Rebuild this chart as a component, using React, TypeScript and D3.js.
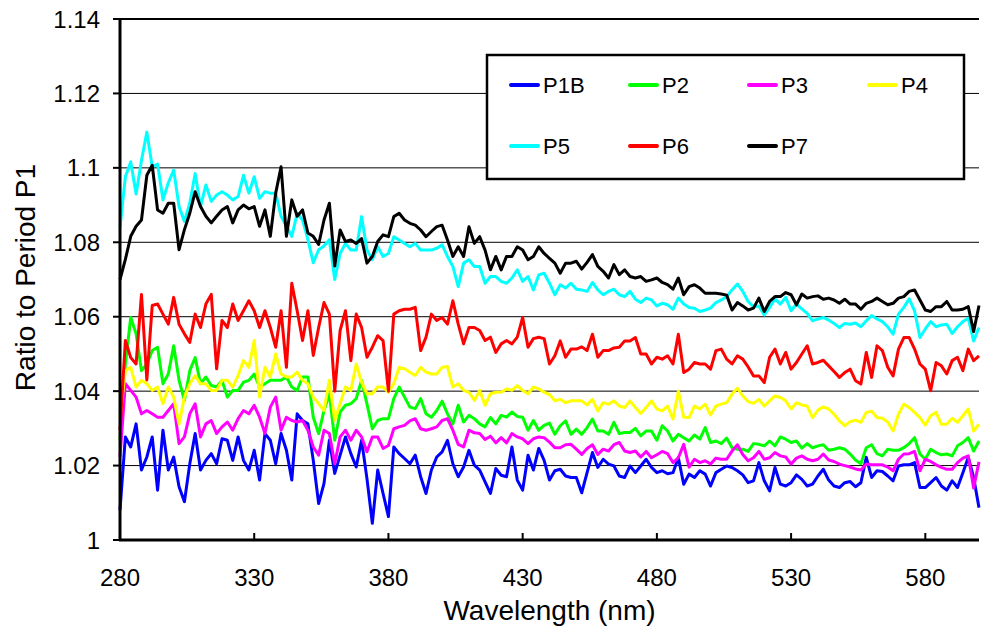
import React from "react";
import * as d3 from "d3";

// wavelength grid (nm), every 2 nm from 280 to 600
const wavelengths = d3.range(280, 601, 2);

const p1b = [
  1.008, 1.0277, 1.025, 1.0312, 1.0188, 1.0223, 1.0277, 1.0134, 1.0295, 1.0188, 1.0223, 1.0143, 1.0103, 1.0205, 1.0286, 1.0188, 1.0214, 1.0232, 1.0205, 1.0272, 1.0268,
  1.0214, 1.0277, 1.0214, 1.0188, 1.0241, 1.0161, 1.0286, 1.0268, 1.0205, 1.0286, 1.0241, 1.0161, 1.0339, 1.0321, 1.0312, 1.0214, 1.0098, 1.0152, 1.0268, 1.0179,
  1.0228, 1.0277, 1.0232, 1.0196, 1.0268, 1.0165, 1.0045, 1.0188, 1.0125, 1.0063, 1.025, 1.0232, 1.0219, 1.0205, 1.0228, 1.017, 1.0125, 1.0188, 1.0223, 1.0237,
  1.0268, 1.0205, 1.017, 1.0196, 1.0241, 1.0201, 1.0188, 1.0156, 1.0125, 1.0192, 1.0174, 1.017, 1.025, 1.0161, 1.0134, 1.0228, 1.0188, 1.0246, 1.0214, 1.0161,
  1.0186, 1.019, 1.0172, 1.0168, 1.0168, 1.0127, 1.0181, 1.0235, 1.0195, 1.0217, 1.0204, 1.0199, 1.0172, 1.0168, 1.0199, 1.0181, 1.0199, 1.0217, 1.0195, 1.0181,
  1.0186, 1.0178, 1.0181, 1.0221, 1.015, 1.0177, 1.0168, 1.0186, 1.0177, 1.0145, 1.0181, 1.019, 1.0199, 1.0195, 1.0186, 1.0175, 1.0154, 1.0159, 1.0208, 1.0159,
  1.0132, 1.0195, 1.015, 1.0145, 1.0154, 1.0175, 1.0163, 1.0145, 1.015, 1.0172, 1.019, 1.0161, 1.0145, 1.0141, 1.0154, 1.0157, 1.0143, 1.0154, 1.0222, 1.0168,
  1.0186, 1.0184, 1.0172, 1.0159, 1.0199, 1.0202, 1.0202, 1.0208, 1.0141, 1.0141, 1.0154, 1.0168, 1.0145, 1.0134, 1.0159, 1.0141, 1.0181, 1.0222, 1.0168, 1.0087,
];

const p2 = [
  1.0268, 1.0473, 1.0598, 1.0554, 1.0455, 1.0473, 1.0509, 1.0518, 1.042, 1.0446, 1.0522, 1.0429, 1.0375, 1.0455, 1.049, 1.042, 1.0438, 1.0415, 1.0411, 1.0429, 1.0384,
  1.0402, 1.0402, 1.0424, 1.0429, 1.0446, 1.0411, 1.042, 1.0429, 1.0429, 1.0429, 1.0438, 1.0411, 1.0402, 1.0438, 1.0438, 1.033, 1.0286, 1.0348, 1.0393, 1.0268,
  1.0344, 1.0362, 1.0366, 1.038, 1.0429, 1.0366, 1.0299, 1.0321, 1.0326, 1.0326, 1.038, 1.0411, 1.0384, 1.0357, 1.0353, 1.038, 1.0339, 1.033, 1.0348, 1.0373,
  1.0339, 1.0312, 1.0362, 1.0317, 1.0335, 1.0326, 1.0312, 1.0304, 1.0329, 1.0312, 1.0335, 1.033, 1.0344, 1.0332, 1.033, 1.0295, 1.0321, 1.0295, 1.0308, 1.0314,
  1.0284, 1.0307, 1.032, 1.0284, 1.0298, 1.0284, 1.0302, 1.0325, 1.0293, 1.0293, 1.0284, 1.0316, 1.0286, 1.0289, 1.0289, 1.03, 1.028, 1.0293, 1.0293, 1.0268,
  1.0307, 1.0293, 1.0266, 1.0284, 1.0275, 1.0266, 1.0282, 1.0271, 1.0302, 1.0262, 1.0266, 1.0259, 1.0274, 1.0248, 1.0244, 1.0244, 1.0238, 1.0259, 1.0257, 1.0253,
  1.0266, 1.0253, 1.0277, 1.0271, 1.0262, 1.0266, 1.0247, 1.0259, 1.0248, 1.0253, 1.0256, 1.0241, 1.0244, 1.0248, 1.0244, 1.0231, 1.0215, 1.0205, 1.0248, 1.0256,
  1.0232, 1.0226, 1.0244, 1.0241, 1.0241, 1.0248, 1.0259, 1.0275, 1.0231, 1.0217, 1.0244, 1.0235, 1.0229, 1.0231, 1.0226, 1.0253, 1.0262, 1.0275, 1.0239, 1.0266,
];

const p3 = [
  1.0223, 1.042, 1.0402, 1.0384, 1.0339, 1.0348, 1.0339, 1.033, 1.033, 1.0348, 1.0366, 1.0259, 1.0277, 1.0339, 1.0366, 1.0277, 1.0312, 1.0321, 1.0286, 1.0304, 1.0317,
  1.0295, 1.0326, 1.0348, 1.0339, 1.0362, 1.033, 1.0286, 1.0357, 1.0384, 1.0295, 1.033, 1.0321, 1.0317, 1.0321, 1.0295, 1.025, 1.0228, 1.0295, 1.0286, 1.0205,
  1.0277, 1.0295, 1.0268, 1.0295, 1.0277, 1.0237, 1.0277, 1.0277, 1.0246, 1.0254, 1.0299, 1.0304, 1.0308, 1.032, 1.0326, 1.0299, 1.0295, 1.0299, 1.0304, 1.0321,
  1.0326, 1.0295, 1.0257, 1.025, 1.0295, 1.0288, 1.0286, 1.027, 1.0279, 1.0261, 1.0275, 1.0261, 1.0286, 1.0277, 1.0272, 1.0259, 1.0272, 1.0277, 1.0275, 1.0263,
  1.0248, 1.0248, 1.0256, 1.0257, 1.0244, 1.023, 1.0246, 1.0256, 1.023, 1.0244, 1.0239, 1.0256, 1.0262, 1.0239, 1.0235, 1.0239, 1.0223, 1.0238, 1.0221, 1.0229,
  1.0238, 1.0232, 1.0208, 1.0221, 1.0257, 1.0196, 1.0217, 1.0208, 1.0213, 1.0204, 1.022, 1.0217, 1.0217, 1.0239, 1.0256, 1.023, 1.0213, 1.0221, 1.0238, 1.0217,
  1.0221, 1.0235, 1.0226, 1.0223, 1.0204, 1.022, 1.0226, 1.0217, 1.0213, 1.0217, 1.0231, 1.0215, 1.0211, 1.0204, 1.02, 1.0196, 1.0191, 1.0188, 1.0204, 1.0202,
  1.0202, 1.0202, 1.0196, 1.0186, 1.0217, 1.0231, 1.0232, 1.0238, 1.0186, 1.0217, 1.0211, 1.0202, 1.0195, 1.019, 1.019, 1.0208, 1.022, 1.0226, 1.014, 1.021,
];

const p4 = [
  1.033, 1.0455, 1.0464, 1.0411, 1.0429, 1.042, 1.0402, 1.0411, 1.0366, 1.0411, 1.0384, 1.0312, 1.0384, 1.042, 1.0442, 1.042, 1.042, 1.0402, 1.0402, 1.0429, 1.0429,
  1.0411, 1.0442, 1.0482, 1.0464, 1.0536, 1.0384, 1.0464, 1.0438, 1.05, 1.0446, 1.0438, 1.0438, 1.0451, 1.0429, 1.042, 1.0384, 1.0366, 1.0348, 1.0429, 1.0321,
  1.0366, 1.0411, 1.0402, 1.0473, 1.0424, 1.0393, 1.0393, 1.0411, 1.0411, 1.0397, 1.042, 1.0464, 1.046, 1.0451, 1.0442, 1.0464, 1.0451, 1.0446, 1.0446, 1.0464,
  1.0466, 1.0411, 1.042, 1.0402, 1.0397, 1.0375, 1.0402, 1.0362, 1.0393, 1.0397, 1.0397, 1.0406, 1.0402, 1.0415, 1.0402, 1.0393, 1.0411, 1.0406, 1.0397, 1.0391,
  1.0374, 1.0378, 1.0369, 1.0374, 1.0374, 1.0374, 1.0363, 1.0378, 1.0347, 1.0369, 1.0365, 1.0374, 1.036, 1.0356, 1.0374, 1.0356, 1.034, 1.0356, 1.0374, 1.0352,
  1.0347, 1.036, 1.0325, 1.04, 1.033, 1.0329, 1.036, 1.0352, 1.0365, 1.0336, 1.036, 1.0365, 1.0369, 1.0392, 1.0408, 1.0387, 1.0372, 1.0367, 1.0378, 1.036,
  1.0374, 1.0387, 1.0383, 1.0374, 1.0352, 1.0369, 1.0363, 1.036, 1.0329, 1.0349, 1.0358, 1.0352, 1.0338, 1.032, 1.0307, 1.0318, 1.0322, 1.0316, 1.0343, 1.0346,
  1.0329, 1.0327, 1.0317, 1.0293, 1.0338, 1.0365, 1.0356, 1.0343, 1.0329, 1.0309, 1.0334, 1.0343, 1.0311, 1.0311, 1.0327, 1.0316, 1.0334, 1.0352, 1.0293, 1.0311,
];

const p5 = [
  1.084, 1.0976, 1.1016, 1.093, 1.102, 1.1096, 1.1003, 1.101, 1.0914, 1.096, 1.0994, 1.0896, 1.0856, 1.0905, 1.0985, 1.0896, 1.0954, 1.091, 1.0927, 1.0936, 1.0927,
  1.0914, 1.0923, 1.098, 1.0932, 1.0976, 1.0918, 1.0936, 1.0932, 1.0932, 1.087, 1.0843, 1.0816, 1.0878, 1.086, 1.0807, 1.0745, 1.078, 1.079, 1.0807, 1.07,
  1.077, 1.0797, 1.0779, 1.0779, 1.0869, 1.0779, 1.0753, 1.0788, 1.0762, 1.077, 1.0815, 1.0806, 1.0797, 1.0788, 1.0797, 1.0779, 1.0779, 1.0779, 1.0784, 1.0793,
  1.0762, 1.0735, 1.0681, 1.0744, 1.0753, 1.0735, 1.0735, 1.069, 1.0708, 1.0708, 1.0695, 1.069, 1.0704, 1.0726, 1.0695, 1.0708, 1.0672, 1.0712, 1.0717, 1.069,
  1.0659, 1.0686, 1.0677, 1.069, 1.0674, 1.0672, 1.0668, 1.0692, 1.0672, 1.0659, 1.0668, 1.0674, 1.0659, 1.0654, 1.0668, 1.0647, 1.0638, 1.065, 1.0645, 1.0629,
  1.0636, 1.0632, 1.062, 1.065, 1.0634, 1.0625, 1.0623, 1.0614, 1.0618, 1.0623, 1.0638, 1.0645, 1.0654, 1.0672, 1.0688, 1.0668, 1.0641, 1.0627, 1.0629, 1.0605,
  1.0625, 1.0648, 1.0634, 1.0652, 1.0616, 1.0634, 1.0621, 1.0609, 1.0589, 1.0594, 1.0598, 1.0591, 1.0582, 1.0571, 1.0582, 1.058, 1.0583, 1.0573, 1.0589, 1.0603,
  1.0594, 1.0587, 1.0573, 1.0553, 1.0607, 1.0625, 1.0648, 1.0616, 1.0544, 1.0567, 1.0587, 1.0573, 1.0578, 1.058, 1.0555, 1.0573, 1.0587, 1.0596, 1.0535, 1.0571,
];

const p6 = [
  1.0295, 1.0536, 1.049, 1.0473, 1.066, 1.043, 1.063, 1.0634, 1.0607, 1.058, 1.0652, 1.058, 1.0554, 1.0531, 1.0607, 1.0571, 1.0634, 1.066, 1.046, 1.059, 1.0571,
  1.0634, 1.059, 1.0616, 1.0643, 1.0616, 1.0571, 1.0616, 1.0571, 1.0518, 1.0616, 1.0464, 1.069, 1.0616, 1.0536, 1.0616, 1.0496, 1.0571, 1.0638, 1.0607, 1.04,
  1.0563, 1.0616, 1.0482, 1.0607, 1.0571, 1.0491, 1.0518, 1.0549, 1.0536, 1.04, 1.0607, 1.0616, 1.062, 1.062, 1.0625, 1.0509, 1.0545, 1.0607, 1.059, 1.0598,
  1.058, 1.0643, 1.058, 1.0527, 1.0571, 1.0571, 1.0563, 1.0536, 1.0545, 1.0504, 1.0527, 1.0536, 1.0527, 1.0545, 1.0598, 1.0518, 1.0541, 1.0545, 1.0541, 1.0473,
  1.0495, 1.0535, 1.0491, 1.0513, 1.0513, 1.0519, 1.0509, 1.0553, 1.0491, 1.0509, 1.0509, 1.0516, 1.0518, 1.0535, 1.0535, 1.0544, 1.05, 1.05, 1.0473, 1.0491,
  1.0486, 1.0495, 1.0473, 1.0553, 1.045, 1.0459, 1.0477, 1.0473, 1.0473, 1.0459, 1.0509, 1.0513, 1.0486, 1.0473, 1.0495, 1.0486, 1.0465, 1.0441, 1.0441, 1.0423,
  1.0491, 1.0513, 1.0473, 1.0504, 1.0459, 1.0477, 1.05, 1.0522, 1.0473, 1.0477, 1.0483, 1.0468, 1.0453, 1.0437, 1.045, 1.0459, 1.0428, 1.0419, 1.0504, 1.0437,
  1.0522, 1.0509, 1.0464, 1.0441, 1.0513, 1.0544, 1.0544, 1.0513, 1.0473, 1.0459, 1.0401, 1.0477, 1.0468, 1.0446, 1.0482, 1.0491, 1.0455, 1.0513, 1.0482, 1.0495,
];

const p7 = [
  1.07, 1.0754, 1.0816, 1.0843, 1.086, 1.098, 1.1007, 1.0887, 1.0878, 1.0905, 1.0905, 1.078, 1.0834, 1.0878, 1.0936, 1.0896, 1.087, 1.0852, 1.087, 1.0887, 1.0896,
  1.0852, 1.0887, 1.09, 1.089, 1.0896, 1.0843, 1.0887, 1.0816, 1.0932, 1.1003, 1.0816, 1.0914, 1.087, 1.0887, 1.0825, 1.0816, 1.0794, 1.086, 1.0905, 1.0736,
  1.0833, 1.0802, 1.0806, 1.0797, 1.081, 1.0744, 1.0762, 1.0802, 1.082, 1.0815, 1.0869, 1.0878, 1.086, 1.0851, 1.0846, 1.0833, 1.0815, 1.0829, 1.0842, 1.0846,
  1.0806, 1.0762, 1.0788, 1.0762, 1.0842, 1.0797, 1.0815, 1.0779, 1.0726, 1.0762, 1.0726, 1.0762, 1.0762, 1.0788, 1.0779, 1.0753, 1.0762, 1.0788, 1.077, 1.0757,
  1.0744, 1.0717, 1.0744, 1.0744, 1.0749, 1.0728, 1.0746, 1.0767, 1.0735, 1.0722, 1.0704, 1.074, 1.0713, 1.0726, 1.0708, 1.0704, 1.0708, 1.0695, 1.0699, 1.0704,
  1.0692, 1.0686, 1.0674, 1.0704, 1.0659, 1.0681, 1.0686, 1.0677, 1.0663, 1.0663, 1.0663, 1.0661, 1.0658, 1.0618, 1.0638, 1.0629, 1.0618, 1.0623, 1.065, 1.0614,
  1.0641, 1.0654, 1.0654, 1.0665, 1.0659, 1.0632, 1.0661, 1.065, 1.0654, 1.0656, 1.0647, 1.065, 1.0645, 1.0636, 1.0647, 1.0634, 1.0634, 1.062, 1.0636, 1.0641,
  1.065, 1.0641, 1.0632, 1.0636, 1.065, 1.0654, 1.0668, 1.0672, 1.0645, 1.0618, 1.0614, 1.0627, 1.0627, 1.0641, 1.0618, 1.0618, 1.062, 1.0627, 1.056, 1.063,
];

const seriesNames = ["P1B", "P2", "P3", "P4", "P5", "P6", "P7"];
const seriesColors = ["#0000ff", "#00ff00", "#ff00ff", "#ffff00", "#00ffff", "#ff0000", "#000000"];
const seriesValues = [p1b, p2, p3, p4, p5, p6, p7];

const xTicks = [280, 330, 380, 430, 480, 530, 580];
const yTicks = [1, 1.02, 1.04, 1.06, 1.08, 1.1, 1.12, 1.14];

const width = 982;
const height = 626;
const left = 120;
const right = 979;
const top = 19;
const bottom = 540;
const font = "Arial, 'Liberation Sans', sans-serif";

export default function App() {
  const x = d3.scaleLinear().domain([280, 600]).range([left, right]);
  const y = d3.scaleLinear().domain([1, 1.14]).range([bottom, top]);

  const line = d3
    .line<number>()
    .x((_, i) => x(wavelengths[i]))
    .y((d) => y(d));

  // legend layout: 4 columns, 2 rows
  const legX = [511, 630, 749, 869];
  const legY = [85, 146];

  return (
    <svg width={width} height={height} style={{ position: "absolute", left: 0, top: 0, background: "#fff" }}>
      <rect x={0} y={0} width={width} height={height} fill="#fff" />
      {/* gridlines */}
      {yTicks.slice(1, -1).map((t) => (
        <line key={t} x1={left} x2={right} y1={y(t)} y2={y(t)} stroke="#000" strokeWidth={1} />
      ))}
      <line x1={left} x2={right} y1={y(1.14)} y2={y(1.14)} stroke="#000" strokeWidth={2} />

      {/* series */}
      {seriesValues.map((vals, i) => (
        <path
          key={seriesNames[i]}
          d={line(vals) || ""}
          fill="none"
          stroke={seriesColors[i]}
          strokeWidth={3}
          strokeLinejoin="round"
        />
      ))}

      {/* axes */}
      <line x1={left} x2={left} y1={top - 1} y2={bottom + 1} stroke="#000" strokeWidth={3} />
      <line x1={left - 1} x2={right} y1={bottom} y2={bottom} stroke="#000" strokeWidth={3} />
      {yTicks.map((t) => (
        <g key={t}>
          <line x1={left - 7} x2={left} y1={y(t)} y2={y(t)} stroke="#000" strokeWidth={2} />
          <text x={left - 20} y={y(t)} dy="0.36em" textAnchor="end" fontFamily={font} fontSize={24} fill="#000">
            {String(t)}
          </text>
        </g>
      ))}
      {xTicks.map((t) => (
        <g key={t}>
          <line x1={x(t)} x2={x(t)} y1={bottom} y2={bottom - 7} stroke="#000" strokeWidth={2} />
          <text x={x(t)} y={586} textAnchor="middle" fontFamily={font} fontSize={24} fill="#000">
            {t}
          </text>
        </g>
      ))}

      {/* axis titles */}
      <text x={(left + right) / 2} y={620} textAnchor="middle" fontFamily={font} fontSize={28} fill="#000">
        Wavelength (nm)
      </text>
      <text
        transform={`translate(35, ${(top + bottom) / 2 - 2}) rotate(-90)`}
        textAnchor="middle"
        fontFamily={font}
        fontSize={28}
        fill="#000"
      >
        Ratio to Period P1
      </text>

      {/* legend */}
      <rect x={487} y={55} width={477} height={124} fill="#fff" stroke="#000" strokeWidth={2.5} />
      {seriesNames.map((name, i) => {
        const lx = legX[i % 4];
        const ly = legY[Math.floor(i / 4)];
        return (
          <g key={name}>
            <line x1={lx} x2={lx + 27} y1={ly} y2={ly} stroke={seriesColors[i]} strokeWidth={4} strokeLinecap="round" />
            <text x={lx + 32} y={ly} dy="0.36em" fontFamily={font} fontSize={22} fill="#000">
              {name}
            </text>
          </g>
        );
      })}
    </svg>
  );
}
